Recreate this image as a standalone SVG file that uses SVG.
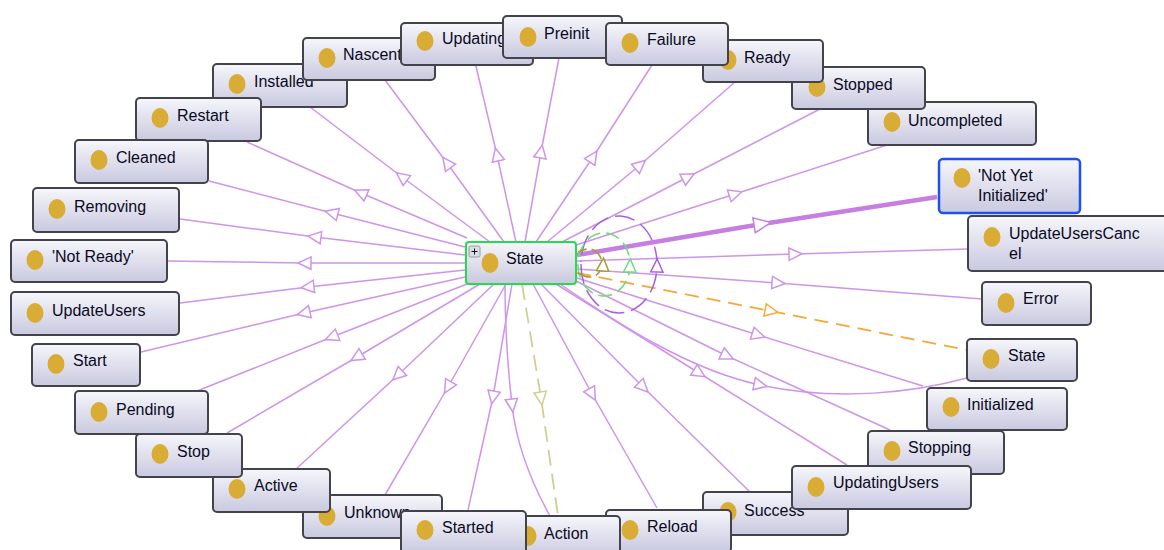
<svg xmlns="http://www.w3.org/2000/svg" width="1164" height="550" viewBox="0 0 1164 550">
<style>
.e{fill:none;stroke:#cf94e8;stroke-width:1.5;marker-mid:url(#ap)}
.box{fill:url(#g);stroke:#43434b;stroke-width:2}
.dot{fill:#d9ac35}
text{font-family:"Liberation Sans",Arial,sans-serif;font-size:16px;fill:#0a0a1e}
</style>
<defs>
<linearGradient id="g" x1="0" y1="0" x2="0" y2="1"><stop offset="0" stop-color="#f6f6fb"/><stop offset="1" stop-color="#c9c9e0"/></linearGradient>
<marker id="ap" markerUnits="userSpaceOnUse" markerWidth="18" markerHeight="16" refX="7" refY="8" orient="auto"><path d="M1 1.8L14 8L1 14.2Z" fill="#fff" stroke="#cf94e8" stroke-width="1.5"/></marker>
<marker id="apt" markerUnits="userSpaceOnUse" markerWidth="22" markerHeight="20" refX="9" refY="10" orient="auto"><path d="M1 2.5L18 10L1 17.5Z" fill="#fff" stroke="#c67ee0" stroke-width="1.5"/></marker>
<marker id="apd" markerUnits="userSpaceOnUse" markerWidth="18" markerHeight="16" refX="7" refY="8" orient="auto"><path d="M1 1.8L14 8L1 14.2Z" fill="#fff" stroke="#a95fdc" stroke-width="1.5"/></marker>
<marker id="ago" markerUnits="userSpaceOnUse" markerWidth="18" markerHeight="16" refX="7" refY="8" orient="auto"><path d="M1 1.8L14 8L1 14.2Z" fill="#fff" stroke="#6edc78" stroke-width="1.5"/></marker>
<marker id="aol" markerUnits="userSpaceOnUse" markerWidth="18" markerHeight="16" refX="7" refY="8" orient="auto"><path d="M1 1.8L14 8L1 14.2Z" fill="#fff" stroke="#a89a35" stroke-width="1.5"/></marker>
<marker id="aor" markerUnits="userSpaceOnUse" markerWidth="18" markerHeight="16" refX="7" refY="8" orient="auto"><path d="M1 1.8L14 8L1 14.2Z" fill="#fff" stroke="#f5a83a" stroke-width="1.5"/></marker>
<marker id="aba" markerUnits="userSpaceOnUse" markerWidth="18" markerHeight="16" refX="7" refY="8" orient="auto"><path d="M1 1.8L14 8L1 14.2Z" fill="#fff" stroke="#cfcf94" stroke-width="1.5"/></marker>
</defs>
<g id="connectors">
<path class="e" d="M504 242L447 163L385 80"/>
<path class="e" d="M490 242L402 177L310 107"/>
<path class="e" d="M516 242L497 155L475 62"/>
<path class="e" d="M525 242L541 152L559 58"/>
<path class="e" d="M536 242L593 157L652 65"/>
<path class="e" d="M547 242L640 165L735 82"/>
<path class="e" d="M562 242L688 177L820 109"/>
<path class="e" d="M576 245L735 194L887 145"/>
<path class="e" d="M467 238L361 193L247 142"/>
<path class="e" d="M465 247L332 213L209 181"/>
<path class="e" d="M465 255L315 237L180 219"/>
<path class="e" d="M466 263L305 263L167 261"/>
<path class="e" d="M465 270L308 287L180 303"/>
<path class="e" d="M465 277L304 313L141 352"/>
<path class="e" d="M467 284L332 337L197 391"/>
<path class="e" d="M480 284L357 357L227 433"/>
<path class="e" d="M494 284L398 375L295 470"/>
<path class="e" d="M506 284L448 387L385 495"/>
<path class="e" d="M512 284L493 397L468 510"/>
<path class="e" d="M505 284C505 330 508 370 512 405C516 440 530 480 550 516"/>
<path class="e" d="M533 284L592 394L657 508"/>
<path class="e" d="M541 284L643 387L750 492"/>
<path class="e" d="M556 284L699 373L847 465"/>
<path class="e" d="M576 281L727 356L890 430"/>
<path class="e" d="M577 278L758 335L923 386"/>
<path class="e" d="M560 284C620 325 690 370 760 385C840 402 915 392 967 378"/>
<path class="e" d="M577 269L778 283L982 299"/>
<path class="e" d="M577 261L795 254L968 249"/>
<path d="M577 255L762 224L937 197" fill="none" stroke="#c67ee0" stroke-width="4.5" marker-mid="url(#apt)"/>
<path d="M577 273L771 311L967 350" fill="none" stroke="#f5a83a" stroke-width="1.8" stroke-dasharray="14 8" marker-mid="url(#aor)"/>
<path d="M522 284L541 398L558 516" fill="none" stroke="#cfcf94" stroke-width="1.8" stroke-dasharray="16 8" marker-mid="url(#aba)"/>
<path d="M581 264A38 48 0 0 0 657 266A38 48 0 0 0 581 262" fill="none" stroke="#a95fdc" stroke-width="1.5" stroke-dasharray="20 7" marker-mid="url(#apd)"/>
<path d="M578 264A26 31 0 0 0 630 266A26 31 0 0 0 578 262" fill="none" stroke="#6edc78" stroke-width="1.5" stroke-dasharray="14 6" marker-mid="url(#ago)"/>
<path d="M578 273Q596 284 603 265Q598 242 578 252" fill="none" stroke="#a89a35" stroke-width="1.6" stroke-dasharray="14 5" marker-mid="url(#aol)"/>
</g>
<g id="n-uncompleted"><rect class="box" x="868" y="102" width="168" height="43" rx="4"/><ellipse class="dot" cx="892" cy="122" rx="8.5" ry="10"/><text x="908" y="126">Uncompleted</text></g>
<g id="n-stopped"><rect class="box" x="792" y="67" width="133" height="42" rx="4"/><ellipse class="dot" cx="817" cy="87" rx="8.5" ry="10"/><text x="833" y="90">Stopped</text></g>
<g id="n-ready"><rect class="box" x="703" y="40" width="120" height="42" rx="4"/><ellipse class="dot" cx="728" cy="60" rx="8.5" ry="10"/><text x="744" y="63">Ready</text></g>
<g id="n-installed"><rect class="box" x="213" y="64" width="134" height="43" rx="4"/><ellipse class="dot" cx="237" cy="84" rx="8.5" ry="10"/><text x="254" y="87">Installed</text></g>
<g id="n-nascent"><rect class="box" x="303" y="38" width="132" height="42" rx="4"/><ellipse class="dot" cx="327" cy="58" rx="8.5" ry="10"/><text x="343" y="60">Nascent</text></g>
<g id="n-updating"><rect class="box" x="401" y="23" width="132" height="42" rx="4"/><ellipse class="dot" cx="425" cy="41" rx="8.5" ry="10"/><text x="442" y="44">Updating</text></g>
<g id="n-preinit"><rect class="box" x="503" y="16" width="119" height="42" rx="4"/><ellipse class="dot" cx="528" cy="37" rx="8.5" ry="10"/><text x="544" y="39">Preinit</text></g>
<g id="n-failure"><rect class="box" x="606" y="23" width="122" height="42" rx="4"/><ellipse class="dot" cx="630" cy="43" rx="8.5" ry="10"/><text x="647" y="45">Failure</text></g>
<g id="n-restart"><rect class="box" x="136" y="98" width="125" height="43" rx="4"/><ellipse class="dot" cx="160" cy="118" rx="8.5" ry="10"/><text x="177" y="121">Restart</text></g>
<g id="n-cleaned"><rect class="box" x="75" y="140" width="133" height="43" rx="4"/><ellipse class="dot" cx="99" cy="160" rx="8.5" ry="10"/><text x="116" y="163">Cleaned</text></g>
<g id="n-removing"><rect class="box" x="33" y="188" width="146" height="44" rx="4"/><ellipse class="dot" cx="57" cy="209" rx="8.5" ry="10"/><text x="74" y="212">Removing</text></g>
<g id="n-notready"><rect class="box" x="11" y="240" width="156" height="42" rx="4"/><ellipse class="dot" cx="35" cy="260" rx="8.5" ry="10"/><text x="52" y="262">'Not Ready'</text></g>
<g id="n-updateusers"><rect class="box" x="11" y="292" width="168" height="43" rx="4"/><ellipse class="dot" cx="35" cy="313" rx="8.5" ry="10"/><text x="52" y="316">UpdateUsers</text></g>
<g id="n-start"><rect class="box" x="32" y="344" width="108" height="42" rx="4"/><ellipse class="dot" cx="56" cy="364" rx="8.5" ry="10"/><text x="73" y="366">Start</text></g>
<g id="n-pending"><rect class="box" x="75" y="391" width="133" height="43" rx="4"/><ellipse class="dot" cx="99" cy="412" rx="8.5" ry="10"/><text x="116" y="415">Pending</text></g>
<g id="n-unknown"><rect class="box" x="303" y="495" width="139" height="43" rx="4"/><ellipse class="dot" cx="327" cy="516" rx="8.5" ry="10"/><text x="344" y="518">Unknown</text></g>
<g id="n-active"><rect class="box" x="213" y="469" width="117" height="43" rx="4"/><ellipse class="dot" cx="237" cy="489" rx="8.5" ry="10"/><text x="254" y="491">Active</text></g>
<g id="n-stop"><rect class="box" x="136" y="434" width="106" height="43" rx="4"/><ellipse class="dot" cx="160" cy="454" rx="8.5" ry="10"/><text x="177" y="457">Stop</text></g>
<g id="n-success"><rect class="box" x="703" y="492" width="145" height="43" rx="4"/><ellipse class="dot" cx="728" cy="512" rx="8.5" ry="10"/><text x="744" y="516">Success</text></g>
<g id="n-reload"><rect class="box" x="606" y="510" width="125" height="42" rx="4"/><ellipse class="dot" cx="630" cy="530" rx="8.5" ry="10"/><text x="647" y="532">Reload</text></g>
<g id="n-action"><rect class="box" x="505" y="516" width="115" height="42" rx="4"/><ellipse class="dot" cx="528" cy="536" rx="8.5" ry="10"/><text x="544" y="539">Action</text></g>
<g id="n-started"><rect class="box" x="401" y="511" width="125" height="42" rx="4"/><ellipse class="dot" cx="425" cy="530" rx="8.5" ry="10"/><text x="442" y="533">Started</text></g>
<g id="n-stopping"><rect class="box" x="868" y="431" width="136" height="43" rx="4"/><ellipse class="dot" cx="892" cy="451" rx="8.5" ry="10"/><text x="908" y="453">Stopping</text></g>
<g id="n-updatingusers"><rect class="box" x="792" y="466" width="179" height="43" rx="4"/><ellipse class="dot" cx="816" cy="487" rx="8.5" ry="10"/><text x="833" y="488">UpdatingUsers</text></g>
<g id="n-initialized"><rect class="box" x="927" y="388" width="140" height="42" rx="4"/><ellipse class="dot" cx="951" cy="407" rx="8.5" ry="10"/><text x="967" y="410">Initialized</text></g>
<g id="n-state2"><rect class="box" x="967" y="339" width="110" height="42" rx="4"/><ellipse class="dot" cx="991" cy="359" rx="8.5" ry="10"/><text x="1008" y="361">State</text></g>
<g id="n-error"><rect class="box" x="982" y="282" width="109" height="43" rx="4"/><ellipse class="dot" cx="1006" cy="303" rx="8.5" ry="10"/><text x="1023" y="304">Error</text></g>
<g id="n-updateuserscancel"><rect class="box" x="968" y="216" width="200" height="55" rx="4"/><ellipse class="dot" cx="992" cy="237" rx="8.5" ry="10"/><text x="1009" y="239">UpdateUsersCanc<tspan x="1009" dy="20">el</tspan></text></g>
<g id="n-notyet"><rect class="box" x="939" y="159" width="141" height="54" rx="4" style="stroke:#1d52f0;stroke-width:2.5"/><ellipse class="dot" cx="962" cy="178" rx="8.5" ry="10"/><text x="978" y="181">'Not Yet<tspan x="978" dy="20">Initialized'</tspan></text></g>
<g id="n-state"><rect class="box" x="466" y="242" width="110" height="42" rx="3" style="stroke:#25dc4a;stroke-width:2"/><rect x="469" y="246" width="11" height="11" rx="1.5" fill="#dcdce8" stroke="#9a9aa6"/><path d="M471.5 251.5h6M474.5 248.5v6" stroke="#111" stroke-width="1" fill="none"/><ellipse class="dot" cx="490" cy="263" rx="8.5" ry="10"/><text x="506" y="264">State</text></g>
</svg>
